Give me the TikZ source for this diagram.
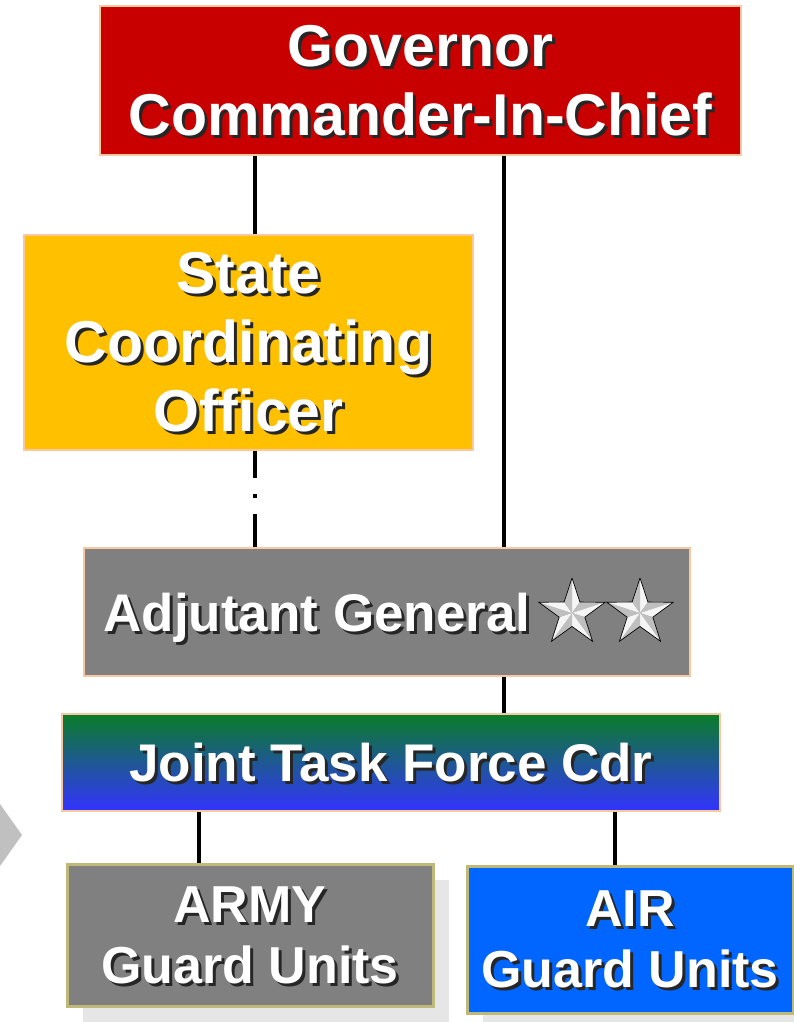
\documentclass[tikz,border=0pt]{standalone}
\usepackage{fontspec}
\setmainfont{Liberation Sans}
\usepackage{tikz}
\usetikzlibrary{shadows}
\definecolor{govred}{RGB}{200,0,0}
\definecolor{scogold}{RGB}{255,192,0}
\definecolor{boxgray}{RGB}{128,128,128}
\definecolor{jtfgreen}{RGB}{10,125,40}
\definecolor{jtfblue}{RGB}{51,51,255}
\definecolor{airblue}{RGB}{0,102,255}
\definecolor{peachborder}{RGB}{250,200,160}
\definecolor{unitborder}{RGB}{190,185,120}
\definecolor{shadowgray}{RGB}{230,230,230}
\definecolor{arrowgray}{RGB}{192,192,192}
\newcommand{\shtxt}[1]{\makebox[0pt][l]{\hspace{3pt}\raisebox{-3pt}[0pt][0pt]{\color{black!85}#1}}#1}
\tikzset{orgbox/.style={draw=peachborder,line width=2pt,rectangle,inner sep=0pt,text=white,align=center,
  font=\bfseries\fontsize{59}{69}\selectfont},
unitbox/.style={orgbox,draw=unitborder,line width=3pt,font=\bfseries\fontsize{52}{61}\selectfont,
  drop shadow={shadow xshift=16pt,shadow yshift=-16pt,fill=shadowgray,opacity=1}},
orgline/.style={line width=4pt}}

\begin{document}
\begin{tikzpicture}[x=1pt,y=-1pt]
\useasboundingbox (0,0) rectangle (793,1022);
\fill[arrowgray] (0,804) -- (22,835) -- (0,866) -- cycle;
\node[orgbox,fill=govred,minimum width=641pt,minimum height=149pt] (gov) at (420.5,80.5)
  {\shtxt{Governor}\\\shtxt{Commander-In-Chief}};
\node[orgbox,fill=scogold,minimum width=449pt,minimum height=215pt] (sco) at (248.5,342.5)
  {\shtxt{State}\\\shtxt{Coordinating}\\\shtxt{Officer}};
\node[orgbox,fill=boxgray,minimum width=606pt,minimum height=128pt,text depth=0pt,
  font=\bfseries\fontsize{53}{61}\selectfont] (ag) at (387,612)
  {\shtxt{Adjutant General}\hspace{140pt}};
\node[orgbox,top color=jtfgreen,bottom color=jtfblue,minimum width=658pt,minimum height=97pt,
  font=\bfseries\fontsize{53}{61}\selectfont] (jtf) at (391,762.5)
  {\shtxt{Joint Task Force Cdr}};
\node[unitbox,fill=boxgray,minimum width=366pt,minimum height=142pt] (army) at (250,935)
  {\shtxt{ARMY}\\\shtxt{Guard Units}};
\node[unitbox,fill=airblue,minimum width=326pt,minimum height=147pt] (air) at (630,939.5)
  {\shtxt{AIR}\\\shtxt{Guard Units}};
\foreach \sx in {572,640}{
  \begin{scope}[shift={(\sx,613)}]
  \foreach \i in {0,...,4}{
    \fill[gray!8] (0,0) -- (270+72*\i:35) -- (306+72*\i:13.5) -- cycle;
    \fill[gray!50] (0,0) -- (306+72*\i:13.5) -- (342+72*\i:35) -- cycle;
  }
  \draw[line width=0.7pt,line join=miter] (270:35) \foreach \i in {0,...,4}{ -- (306+72*\i:13.5) -- (342+72*\i:35)};
  \end{scope}
}
\coordinate (g1) at ([xshift=-165.5pt]gov.south);
\coordinate (g2) at ([xshift=83.5pt]gov.south);
\coordinate (j1) at ([xshift=-51pt]army.north);
\coordinate (j2) at ([xshift=-15pt]air.north);
\draw[orgline] (g1) -- (g1 |- sco.north);
\draw[orgline] (g2) -- (g2 |- ag.north);
\draw[orgline,dash pattern=on 27pt off 16pt on 4pt off 16pt on 80pt] (g1 |- sco.south) -- (g1 |- ag.north);
\draw[orgline] (g2 |- ag.south) -- (g2 |- jtf.north);
\draw[orgline] (j1) -- (j1 |- jtf.south);
\draw[orgline] (j2) -- (j2 |- jtf.south);
\end{tikzpicture}
\end{document}
